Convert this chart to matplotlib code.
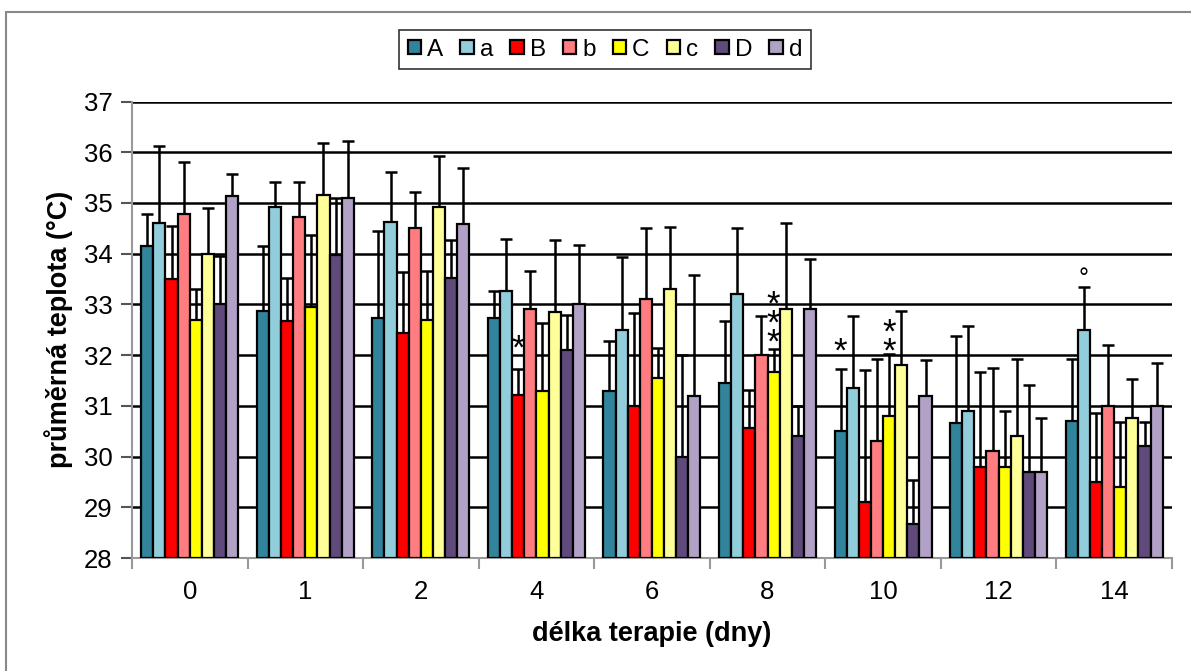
import matplotlib
matplotlib.use('Agg')
import matplotlib.pyplot as plt
import numpy as np
from matplotlib.patches import Rectangle

plt.rcParams['font.family'] = ['Liberation Sans', 'DejaVu Sans']

# dny terapie (kategorie na ose x)
days = ['0', '1', '2', '4', '6', '8', '10', '12', '14']
series = ['A', 'a', 'B', 'b', 'C', 'c', 'D', 'd']
colors = ['#31849B', '#92CDDC', '#FF0000', '#FF7C80', '#FFFF00', '#FFFF99', '#604A7B', '#B2A1C7']

# prumerne teploty (°C) pro kazdou skupinu
A = [34.15, 32.87, 32.73, 32.73, 31.30, 31.45, 30.50, 30.67, 30.70]
a = [34.60, 34.93, 34.62, 33.27, 32.50, 33.20, 31.35, 30.90, 32.50]
B = [33.50, 32.67, 32.43, 31.22, 31.00, 30.57, 29.10, 29.80, 29.50]
b = [34.78, 34.72, 34.50, 32.90, 33.10, 32.00, 30.30, 30.10, 31.00]
C = [32.70, 32.95, 32.70, 31.30, 31.55, 31.67, 30.80, 29.80, 29.40]
c = [34.00, 35.15, 34.92, 32.85, 33.30, 32.90, 31.80, 30.40, 30.77]
D = [33.00, 33.97, 33.52, 32.10, 30.00, 30.40, 28.67, 29.70, 30.20]
d = [35.13, 35.10, 34.58, 33.00, 31.20, 32.90, 31.20, 29.70, 31.00]

# horni konce chybovych usecek (SD)
A_top = [34.79, 34.15, 34.45, 33.27, 32.27, 32.67, 31.72, 32.37, 31.92]
a_top = [36.12, 35.42, 35.62, 34.28, 33.93, 34.50, 32.77, 32.58, 33.35]
B_top = [34.55, 33.53, 33.63, 31.73, 32.83, 31.32, 31.70, 31.67, 30.85]
b_top = [35.80, 35.42, 35.22, 33.65, 34.50, 32.78, 31.93, 31.75, 32.20]
C_top = [33.30, 34.37, 33.65, 32.63, 32.15, 32.13, 32.02, 30.90, 30.68]
c_top = [34.90, 36.18, 35.93, 34.27, 34.52, 34.60, 32.87, 31.92, 31.53]
D_top = [33.95, 35.10, 34.27, 32.80, 32.00, 31.00, 29.53, 31.42, 30.68]
d_top = [35.57, 36.22, 35.68, 34.18, 33.57, 33.90, 31.90, 30.77, 31.85]

# znacky vyznamnosti: (skupina, serie, text, y stredu)
marks = [(3, 2, '*', 32.12), (5, 4, '*\n*\n*', 32.62), (6, 0, '*', 32.05),
         (6, 4, '*\n*', 32.25), (8, 1, '°', 33.5)]

means = [A, a, B, b, C, c, D, d]
tops = [A_top, a_top, B_top, b_top, C_top, c_top, D_top, d_top]

fig = plt.figure(figsize=(11.91, 6.71), dpi=100)
ax = fig.add_axes([0.1108, 0.1684, 0.8732, 0.6803])

x = np.arange(len(days))
w = 0.105
handles = []
for i, (name, col) in enumerate(zip(series, colors)):
    vals = np.array(means[i])
    err = np.array(tops[i]) - vals
    pos = x + (i - 3.5) * w
    ax.errorbar(pos, vals, yerr=[np.zeros_like(err), err], fmt='none', ecolor='black',
                elinewidth=1.8, capsize=4, capthick=1.8, zorder=2)
    h = ax.bar(pos, vals - 28, width=w, bottom=28, color=col, edgecolor='black',
               linewidth=1.6, label=name, zorder=3)
    handles.append(h)

for g, s, txt, yy in marks:
    xx = x[g] + (s - 3.5) * w
    if '*' in txt:
        ax.text(xx, yy, txt, ha='center', va='center', fontsize=25, linespacing=0.46, zorder=4)
    else:
        ax.text(xx, yy, txt, ha='center', va='center', fontsize=18, zorder=4)

ax.set_ylim(28, 37)
ax.set_xlim(-0.5, len(days) - 0.5)
ax.set_yticks(range(28, 38))
ax.yaxis.grid(True, color='black', linewidth=1.8)
ax.set_axisbelow(True)

ax.set_xticks(np.arange(-0.5, len(days), 1.0))
ax.set_xticklabels([])
ax.set_xticks(x, minor=True)
ax.set_xticklabels(days, minor=True)
ax.tick_params(axis='x', which='major', length=8, width=1.5, color='#999999', direction='out')
ax.tick_params(axis='x', which='minor', length=0, pad=16, labelsize=18.5)
ax.tick_params(axis='y', length=8, width=1.5, color='#555555', labelsize=18.5, pad=6)

for sp in ['top', 'right']:
    ax.spines[sp].set_visible(False)
for sp in ['left', 'bottom']:
    ax.spines[sp].set_color('#999999')
    ax.spines[sp].set_linewidth(1.5)

ax.set_ylabel('průměrná teplota (°C)', fontsize=19.5, fontweight='bold', labelpad=8)
ax.set_xlabel('délka terapie (dny)', fontsize=19.5, fontweight='bold', labelpad=12)

leg = fig.legend(handles=handles, labels=series, loc='center', bbox_to_anchor=(0.508, 0.926),
                 ncol=8, fontsize=17.5, frameon=True, fancybox=False, handlelength=0.55,
                 handleheight=0.55, handletextpad=0.25, columnspacing=0.7, borderpad=0.35)
leg.get_frame().set_edgecolor('black')
leg.get_frame().set_linewidth(1.2)

# okraj celeho grafu
fig.patches.append(Rectangle((6 / 1191, -0.05), 1.1, 1 - 12 / 671 + 0.05, transform=fig.transFigure,
                             fill=False, edgecolor='#888888', linewidth=1.5))

fig.savefig('out.png', dpi=100)
